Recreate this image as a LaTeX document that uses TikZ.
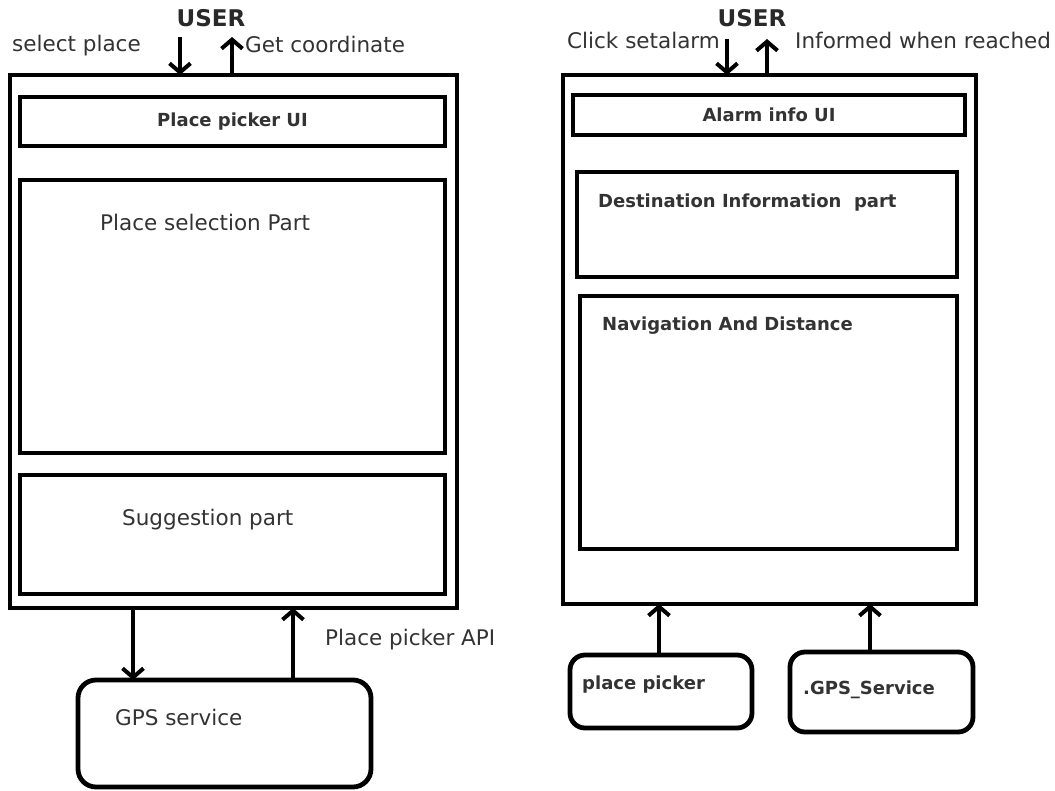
\documentclass[tikz,border=0pt]{standalone}
\usepackage{fontspec}
\setmainfont{DejaVu Sans}
\usetikzlibrary{arrows.meta}
\definecolor{txt}{HTML}{333333}
\tikzset{
  box/.style={draw=black, line width=4.8pt, inner sep=0pt, outer sep=0pt, anchor=north west},
  rbox/.style={box, rounded corners=18pt},
  arr/.style={draw=black, line width=4.5pt, -{Straight Barb[length=9pt,width=21pt,line width=4pt]}},
  lbl/.style={text=txt, font=\fontsize{21.5}{25}\selectfont, inner sep=0pt},
  blbl/.style={text=txt, font=\fontsize{18}{22}\selectfont\bfseries, inner sep=0pt},
  ulbl/.style={text=txt!80!black, font=\fontsize{23}{27}\selectfont\bfseries, inner sep=0pt}
}
\begin{document}
\begin{tikzpicture}[x=1pt,y=-1pt]
\useasboundingbox[fill=white] (0,0) rectangle (1055,790);

% ---------- left diagram ----------
\node[box, minimum width=447pt, minimum height=533pt] (outL) at (10,75) {};
\node[box, minimum width=425pt, minimum height=49pt] (ppui) at (20,97) {};
\node[box, minimum width=425pt, minimum height=273pt] (psel) at (20,180) {};
\node[box, minimum width=425pt, minimum height=119pt] (sugg) at (20,475) {};
\node[rbox, minimum width=293pt, minimum height=107pt] (gpsL) at (78,680) {};

\node[ulbl] (userL) at (211,18) {USER};
\node[lbl, anchor=west] (selpl) at (12,46) {select place};
\node[lbl, anchor=west] (getco) at (245,44) {Get coordinate};
\node[blbl] (ppuit) at (ppui.center) {Place picker UI};
\node[lbl, anchor=west] (pselt) at (100,222) {Place selection Part};
\node[lbl, anchor=west] (suggt) at (122,520) {Suggestion part};
\node[lbl, anchor=west] (ppapi) at (325,640) {Place picker API};
\node[lbl, anchor=west] (gpsLt) at (115,717) {GPS service};

\coordinate (a1) at (180,37);
\coordinate (a2) at (232,37);
\coordinate (b1) at (133,0);
\coordinate (b2) at (293,0);
\draw[arr] (a1) -- (a1 |- outL.north);
\draw[arr] (a2 |- outL.north) -- (a2);
\draw[arr] (b1 |- outL.south) -- (b1 |- gpsL.north);
\draw[arr] (b2 |- gpsL.north) -- (b2 |- outL.south);

% ---------- right diagram ----------
\node[box, minimum width=413pt, minimum height=529pt] (outR) at (563,75) {};
\node[box, minimum width=392pt, minimum height=40pt] (alui) at (573,95) {};
\node[box, minimum width=380pt, minimum height=105pt] (dest) at (577,172) {};
\node[box, minimum width=377pt, minimum height=253pt] (nav) at (580,296) {};
\node[rbox, rounded corners=15pt, minimum width=182pt, minimum height=73pt] (ppk) at (570,655) {};
\node[rbox, rounded corners=15pt, minimum width=183pt, minimum height=80pt] (gpsR) at (790,652) {};

\node[ulbl] (userR) at (752,18) {USER};
\node[lbl, anchor=west] (clk) at (567,40) {Click setalarm};
\node[lbl, anchor=west] (inf) at (795,40) {Informed when reached};
\node[blbl] (aluit) at (alui.center) {Alarm info UI};
\node[blbl, anchor=west] (destt) at (598,203) {Destination Information\ \ part};
\node[blbl, anchor=west] (navt) at (602,326) {Navigation And Distance};
\node[blbl, anchor=west] (ppkt) at (582,685) {place picker};
\node[blbl, anchor=west] (gpsRt) at (803,690) {.GPS\_Service};

\coordinate (c1) at (727,39);
\coordinate (c2) at (767,39);
\coordinate (d1) at (659,0);
\coordinate (d2) at (870,0);
\draw[arr] (c1) -- (c1 |- outR.north);
\draw[arr] (c2 |- outR.north) -- (c2);
\draw[arr] (d1 |- ppk.north) -- (d1 |- outR.south);
\draw[arr] (d2 |- gpsR.north) -- (d2 |- outR.south);
\end{tikzpicture}
\end{document}
